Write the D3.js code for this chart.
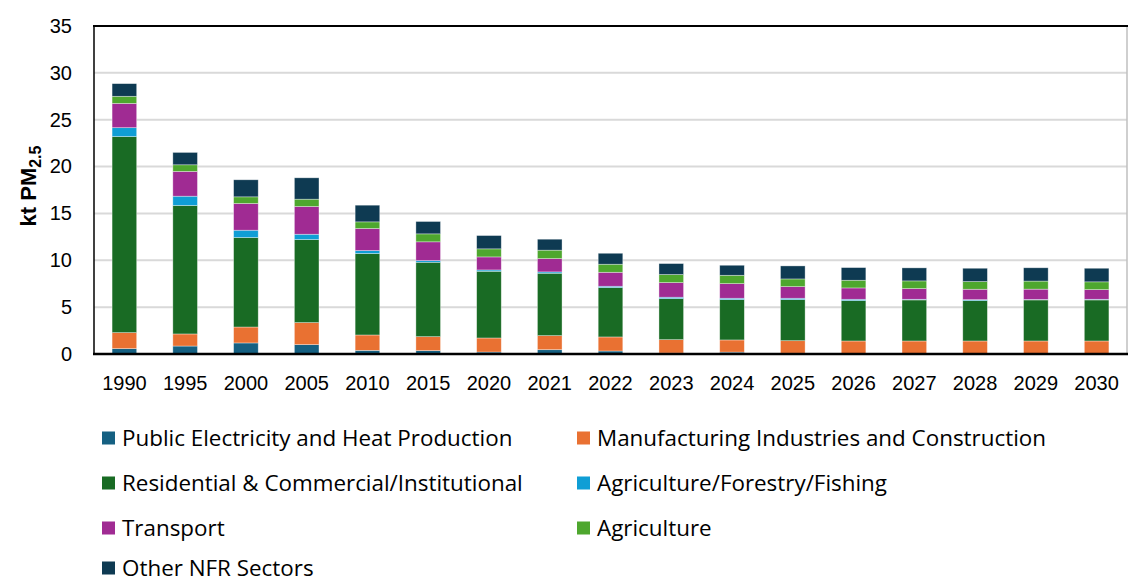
<!DOCTYPE html>
<html><head><meta charset="utf-8">
<script src="https://cdn.jsdelivr.net/npm/d3@7"></script>
<style>body{margin:0;background:#fff;overflow:hidden}</style>
</head><body><svg id="c" width="1128" height="583"></svg>
<script>
const years = ["1990","1995","2000","2005","2010","2015","2020","2021","2022","2023","2024","2025","2026","2027","2028","2029","2030"];
const seriesNames = ["Public Electricity and Heat Production","Manufacturing Industries and Construction","Residential & Commercial/Institutional","Agriculture/Forestry/Fishing","Transport","Agriculture","Other NFR Sectors"];
const seriesColors = ["#156082","#e97132","#196b24","#0f9ed5","#a02b93","#4ea72e","#0e3a52"];
const publicElectricity = [0.57,0.85,1.18,1.00,0.39,0.36,0.21,0.46,0.32,0.10,0.20,0.08,0.05,0.05,0.05,0.05,0.05];
const manufacturing     = [1.71,1.29,1.70,2.35,1.64,1.49,1.50,1.50,1.50,1.43,1.30,1.34,1.34,1.34,1.34,1.34,1.34];
const residential       = [20.92,13.71,9.55,8.86,8.69,7.94,7.12,6.66,5.27,4.38,4.30,4.38,4.31,4.38,4.31,4.38,4.38];
const agriForestFish    = [0.95,0.99,0.78,0.57,0.32,0.18,0.14,0.14,0.14,0.15,0.15,0.15,0.14,0.07,0.10,0.05,0.07];
const transport         = [2.59,2.64,2.85,2.96,2.35,2.00,1.39,1.42,1.49,1.56,1.56,1.24,1.21,1.14,1.11,1.10,1.03];
const agriculture       = [0.76,0.71,0.71,0.78,0.71,0.85,0.86,0.90,0.86,0.86,0.89,0.82,0.82,0.82,0.82,0.86,0.83];
const otherNFR          = [1.35,1.32,1.82,2.28,1.78,1.32,1.42,1.17,1.17,1.17,1.07,1.39,1.35,1.39,1.42,1.42,1.45];
const yTicks = [0,5,10,15,20,25,30,35];

const seriesValues = [publicElectricity,manufacturing,residential,agriForestFish,transport,agriculture,otherNFR];
const rows = years.map((y,i)=>{const r={year:y}; seriesNames.forEach((n,k)=>r[n]=seriesValues[k][i]); return r;});

const svg = d3.select("#c");
const L=94, R=1127, T=26, B=354;
const x = d3.scaleBand().domain(years).range([L,R]).paddingInner(0.595).paddingOuter(0.2975);
const y = d3.scaleLinear().domain([0,35]).range([B,T]);

// gridlines
svg.append("g").selectAll("line").data(yTicks.filter(d=>d>0&&d<35)).join("line")
  .attr("x1",L).attr("x2",R).attr("y1",d=>y(d)).attr("y2",d=>y(d))
  .attr("stroke","#d9d9d9").attr("stroke-width",2);

const stack = d3.stack().keys(seriesNames)(rows);
svg.append("g").selectAll("g").data(stack).join("g")
  .attr("fill",(d,i)=>seriesColors[i])
  .selectAll("rect").data(d=>d).join("rect")
  .attr("x",d=>x(d.data.year)).attr("width",x.bandwidth())
  .attr("y",d=>y(d[1])).attr("height",d=>Math.max(0,y(d[0])-y(d[1])))
  .attr("stroke","#ffffff").attr("stroke-opacity",0.5).attr("stroke-width",0.7);

// frame
svg.append("line").attr("x1",R).attr("x2",R).attr("y1",T).attr("y2",B).attr("stroke","#bfbfbf").attr("stroke-width",1.5);
svg.append("line").attr("x1",L-1).attr("x2",R+1).attr("y1",T).attr("y2",T).attr("stroke","#000").attr("stroke-width",2);
svg.append("line").attr("x1",L).attr("x2",L).attr("y1",T).attr("y2",B).attr("stroke","#000").attr("stroke-width",1.5);
svg.append("line").attr("x1",L-1).attr("x2",R+1).attr("y1",B).attr("y2",B).attr("stroke","#000").attr("stroke-width",2.5);

// y axis labels
const yAxis = d3.axisLeft(y).tickValues(yTicks).tickSize(0).tickPadding(22);
const ya = svg.append("g").attr("transform",`translate(${L},0)`).call(yAxis);
ya.select(".domain").remove();
ya.selectAll("text").attr("font-family","'Liberation Sans', Arial, sans-serif").attr("font-size",20).attr("fill","#000");

// x axis labels
const xAxis = d3.axisBottom(x).tickSize(0).tickPadding(22);
const xa = svg.append("g").attr("transform",`translate(0,${B})`).call(xAxis);
xa.select(".domain").remove();
xa.selectAll("text").attr("font-family","'Liberation Sans', Arial, sans-serif").attr("font-size",20).attr("fill","#000");

// y title
const yt = svg.append("text").attr("transform","translate(36,186) rotate(-90)")
  .attr("text-anchor","middle").attr("font-family","'Liberation Sans', Arial, sans-serif")
  .attr("font-size",22).attr("font-weight","bold").attr("fill","#000");
yt.append("tspan").text("kt PM");
yt.append("tspan").attr("font-size",16).attr("dy",5).text("2.5");

// legend
const legPos = [[102,438],[577,438],[102,483],[577,483],[102,528],[577,528],[102,568]];
const lg = svg.append("g").selectAll("g").data(seriesNames).join("g")
  .attr("transform",(d,i)=>`translate(${legPos[i][0]},${legPos[i][1]})`);
lg.append("rect").attr("x",0).attr("y",-6.5).attr("width",13).attr("height",13).attr("fill",(d,i)=>seriesColors[i]);
lg.append("text").attr("x",20).attr("y",0).attr("dy","0.35em")
  .attr("font-family","'Open Sans', 'Noto Sans', sans-serif").attr("font-size",22.4).attr("fill","#000").text(d=>d);
</script></body></html>
